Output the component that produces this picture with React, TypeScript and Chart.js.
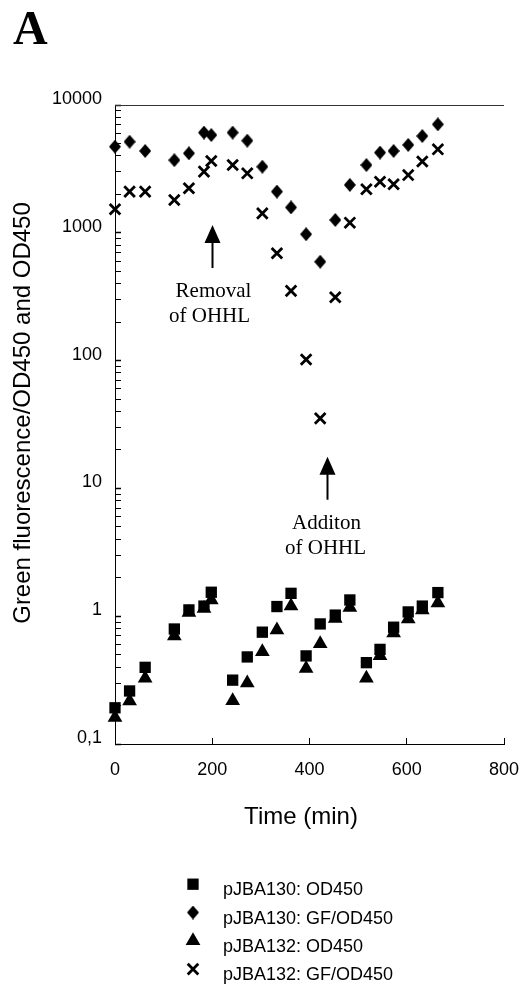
import React, { useEffect, useRef } from 'react';
import { Chart, registerables } from 'chart.js';
import { drawPoint } from 'chart.js/helpers';

Chart.register(...registerables);

// ---- data ----
const times = [0, 30, 62, 122, 152, 183, 198, 242, 272, 303, 333, 362, 393, 422, 453, 483, 517, 545, 573, 603, 632, 664];
const od130 = [0.192, 0.26, 0.398, 0.794, 1.12, 1.2, 1.54, 0.316, 0.48, 0.75, 1.19, 1.51, 0.489, 0.87, 1.02, 1.34, 0.433, 0.55, 0.82, 1.08, 1.2, 1.53];
const gf130 = [4720, 5160, 4370, 3700, 4190, 6080, 5820, 6080, 5260, 3290, 2100, 1580, 975, 594, 1260, 2370, 3390, 4240, 4370, 4870, 5720, 7060];
const od132 = [0.161, 0.217, 0.327, 0.7, 1.07, 1.15, 1.34, 0.218, 0.3, 0.528, 0.78, 1.2, 0.39, 0.61, 0.96, 1.17, 0.327, 0.49, 0.74, 0.95, 1.12, 1.27];
const gf132 = [1528, 2100, 2100, 1807, 2230, 3010, 3650, 3390, 2920, 1420, 692, 351, 102, 35.3, 313, 1200, 2190, 2510, 2400, 2830, 3610, 4500];

const seriesLabels = ['pJBA130: OD450', 'pJBA130: GF/OD450', 'pJBA132: OD450', 'pJBA132: GF/OD450'];
const yMajorTicks = [0.1, 1, 10, 100, 1000, 10000];
const yTickLabels = ['0,1', '1', '10', '100', '1000', '10000'];
const xMin = 0;
const xMax = 800;
const xStep = 200;
const xTitle = 'Time (min)';
const yTitle = 'Green fluorescence/OD450 and OD450';
const panelLetter = 'A';
const annotations = [
  { time: 199, tipValue: 1150, lines: ['Removal', 'of OHHL'] },
  { time: 435, tipValue: 17.7, lines: ['Additon', 'of OHHL'] },
];

const SANS = '"Liberation Sans", Arial, Helvetica, sans-serif';
const SERIF = '"Liberation Serif", "Times New Roman", serif';

function makeDiamond(w: number, h: number) {
  const c = document.createElement('canvas');
  c.width = w;
  c.height = h;
  const g = c.getContext('2d')!;
  g.fillStyle = '#000';
  g.beginPath();
  g.moveTo(w / 2, 0);
  g.lineTo(w, h / 2);
  g.lineTo(w / 2, h);
  g.lineTo(0, h / 2);
  g.closePath();
  g.fill();
  return c;
}

const toPoints = (vals: number[]) => vals.map((v, i) => ({ x: times[i], y: v }));

const overlayPlugin = {
  id: 'overlay',
  beforeDraw(chart: any) {
    const { ctx, width, height } = chart;
    ctx.save();
    ctx.fillStyle = '#fff';
    ctx.fillRect(0, 0, width, height);
    ctx.restore();
  },
  afterDraw(chart: any) {
    const { ctx, chartArea } = chart;
    const xs = chart.scales.x;
    const ys = chart.scales.y;
    ctx.save();
    // top frame line
    ctx.strokeStyle = '#333';
    ctx.lineWidth = 1;
    ctx.beginPath();
    ctx.moveTo(chartArea.left, chartArea.top + 0.5);
    ctx.lineTo(chartArea.right, chartArea.top + 0.5);
    ctx.stroke();

    // panel letter
    ctx.fillStyle = '#000';
    ctx.font = `bold 48px ${SERIF}`;
    ctx.textAlign = 'left';
    ctx.textBaseline = 'alphabetic';
    ctx.fillText(panelLetter, 13, 44);

    // axis titles
    ctx.font = `24px ${SANS}`;
    ctx.textAlign = 'center';
    ctx.textBaseline = 'middle';
    ctx.fillText(xTitle, 301, 817);
    ctx.save();
    ctx.translate(23, 413);
    ctx.rotate(-Math.PI / 2);
    ctx.fillText(yTitle, 0, 0);
    ctx.restore();

    // annotations with arrows
    annotations.forEach((a, k) => {
      const ax = Math.round(xs.getPixelForValue(a.time)) + 0.5;
      const ty = ys.getPixelForValue(a.tipValue);
      ctx.strokeStyle = '#000';
      ctx.fillStyle = '#000';
      ctx.lineWidth = 2;
      ctx.beginPath();
      ctx.moveTo(ax, ty + 14);
      ctx.lineTo(ax, ty + 43);
      ctx.stroke();
      ctx.beginPath();
      ctx.moveTo(ax, ty);
      ctx.lineTo(ax - 8, ty + 18);
      ctx.lineTo(ax + 8, ty + 18);
      ctx.closePath();
      ctx.fill();
      ctx.font = `21px ${SERIF}`;
      ctx.textAlign = 'center';
      ctx.textBaseline = 'alphabetic';
      const offs = k === 0 ? [1, -3] : [-1, -2];
      a.lines.forEach((line, j) => {
        ctx.fillText(line, ax + offs[j], ty + 72 + j * 25);
      });
    });

    // legend
    const markerX = 193;
    const textX = 223;
    const firstY = 890.5;
    const step = 28.3;
    chart.data.datasets.forEach((ds: any, i: number) => {
      const cy = firstY + i * step;
      ctx.fillStyle = '#000';
      ctx.strokeStyle = '#000';
      ctx.lineWidth = ds.borderWidth || 0;
      drawPoint(ctx, { pointStyle: ds.pointStyle, radius: ds.pointRadius, rotation: 0, borderWidth: ds.borderWidth || 0 } as any, markerX, cy - 6.3);
      ctx.font = `18px ${SANS}`;
      ctx.textAlign = 'left';
      ctx.textBaseline = 'middle';
      ctx.fillText(ds.label, textX, cy);
    });
    ctx.restore();
  },
};

export default function App() {
  const canvasRef = useRef<HTMLCanvasElement | null>(null);

  useEffect(() => {
    const canvas = canvasRef.current;
    if (!canvas) return;
    Chart.defaults.color = '#000';
    Chart.defaults.font.family = SANS;
    const diamond = makeDiamond(12, 14);

    const chart = new Chart(canvas, {
      type: 'scatter',
      data: {
        datasets: [
          {
            label: seriesLabels[0],
            data: toPoints(od130),
            pointStyle: 'rect',
            pointRadius: 8,
            backgroundColor: '#000',
            borderColor: '#000',
            borderWidth: 0,
            clip: false,
          },
          {
            label: seriesLabels[1],
            data: toPoints(gf130),
            pointStyle: diamond,
            pointRadius: 7,
            backgroundColor: '#000',
            borderColor: '#000',
            borderWidth: 0,
            clip: false,
          },
          {
            label: seriesLabels[2],
            data: toPoints(od132),
            pointStyle: 'triangle',
            pointRadius: 8.5,
            backgroundColor: '#000',
            borderColor: '#000',
            borderWidth: 0,
            clip: false,
          },
          {
            label: seriesLabels[3],
            data: toPoints(gf132),
            pointStyle: 'crossRot',
            pointRadius: 7.5,
            backgroundColor: '#000',
            borderColor: '#000',
            borderWidth: 2.8,
            clip: false,
          },
        ] as any,
      },
      options: {
        animation: false,
        responsive: false,
        events: [],
        layout: { padding: { left: 0, top: 105, right: 17, bottom: 0 } },
        plugins: {
          legend: { display: false },
          title: { display: false },
          tooltip: { enabled: false },
        },
        scales: {
          x: {
            type: 'linear',
            min: xMin,
            max: xMax,
            border: { display: true, color: '#000', width: 1 },
            grid: { drawOnChartArea: false, drawTicks: true, tickLength: -6, color: '#000', tickWidth: 1 },
            ticks: { stepSize: xStep, padding: 21, color: '#000', font: { size: 18, family: SANS } },
            afterFit: (scale: any) => {
              scale.height = 244;
              scale.paddingLeft = 0;
              scale.paddingRight = 0;
            },
          },
          y: {
            type: 'logarithmic',
            min: yMajorTicks[0],
            max: yMajorTicks[yMajorTicks.length - 1],
            border: { display: true, color: '#000', width: 1 },
            grid: {
              drawOnChartArea: false,
              drawTicks: true,
              tickLength: -6,
              color: '#000',
              tickWidth: (c: any) => (c.tick && yMajorTicks.some((m) => Math.abs(c.tick.value - m) / m < 1e-6) ? 1.5 : 1),
            },
            ticks: {
              autoSkip: false,
              padding: 19,
              labelOffset: -6,
              color: '#000',
              font: { size: 18, family: SANS },
              callback: (value: any) => {
                const v = Number(value);
                const idx = yMajorTicks.findIndex((m) => Math.abs(v - m) / m < 1e-6);
                return idx >= 0 ? yTickLabels[idx] : '';
              },
            },
            afterBuildTicks: (scale: any) => {
              const vals: number[] = [];
              for (let i = 0; i < yMajorTicks.length - 1; i++) {
                for (let m = 1; m <= 9; m++) vals.push(yMajorTicks[i] * m);
              }
              vals.push(yMajorTicks[yMajorTicks.length - 1]);
              scale.ticks = vals.map((v) => ({ value: v }));
            },
            afterFit: (scale: any) => {
              scale.width = 115;
              scale.paddingTop = 0;
              scale.paddingBottom = 0;
            },
          },
        } as any,
      },
      plugins: [overlayPlugin],
    });
    return () => chart.destroy();
  }, []);

  return (
    <div style={{ position: 'absolute', left: 0, top: 0, width: 521, height: 988, background: '#fff' }}>
      <canvas ref={canvasRef} width={521} height={988} style={{ display: 'block', width: 521, height: 988 }} />
    </div>
  );
}
